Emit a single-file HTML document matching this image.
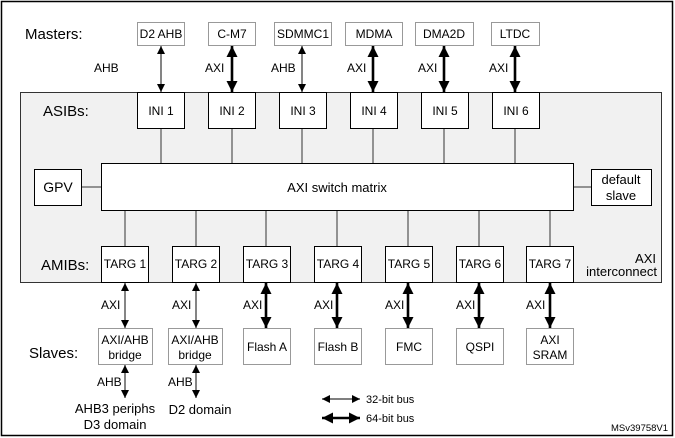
<!DOCTYPE html>
<html><head><meta charset="utf-8"><style>
body{margin:0;background:#fff}
svg{display:block;font-family:"Liberation Sans",Arial,sans-serif}
</style></head><body>
<svg width="675" height="438" viewBox="0 0 675 438" xmlns="http://www.w3.org/2000/svg">
<defs>
<marker id="a" viewBox="0 0 10 10" refX="10" refY="5" markerWidth="8" markerHeight="8" markerUnits="userSpaceOnUse" orient="auto-start-reverse"><path d="M0,0L10,5L0,10z" fill="#000"/></marker>
<marker id="b" viewBox="0 0 10 10" refX="10" refY="5" markerWidth="11" markerHeight="11" markerUnits="userSpaceOnUse" orient="auto-start-reverse"><path d="M0,0L10,5L0,10z" fill="#000"/></marker>
</defs>
<rect x="1.5" y="1.5" width="671" height="434" fill="#fff" stroke="#000" stroke-width="1.5"/>
<rect x="20.5" y="92.5" width="641" height="190" fill="#f1f1f1" stroke="#333"/>
<g font-size="15" fill="#000">
<text x="25" y="39">Masters:</text>
<text x="43" y="116">ASIBs:</text>
<text x="41" y="270">AMIBs:</text>
<text x="29" y="358">Slaves:</text>
</g>
<g stroke="#999" fill="#fff">
<rect x="137.5" y="22.5" width="47" height="23"/>
<rect x="208.5" y="22.5" width="47" height="23"/>
<rect x="274.5" y="22.5" width="57" height="23"/>
<rect x="345.5" y="22.5" width="57" height="23"/>
<rect x="415.5" y="22.5" width="58" height="23"/>
<rect x="491.5" y="22.5" width="48" height="23"/>
<rect x="98.5" y="328.5" width="54" height="36"/>
<rect x="168.5" y="328.5" width="54" height="36"/>
<rect x="243.5" y="328.5" width="47" height="36"/>
<rect x="314.5" y="328.5" width="47" height="36"/>
<rect x="385.5" y="328.5" width="47" height="36"/>
<rect x="456.5" y="328.5" width="47" height="36"/>
<rect x="526.5" y="328.5" width="47" height="36"/>
</g>
<g stroke="#333" fill="none">
<path d="M161 128V163M232 128V163M302 128V163M373 128V163M444 128V163M515 128V163"/>
<path d="M125 210V246M196 210V246M266 210V246M337 210V246M408 210V246M479 210V246M550 210V246"/>
<path d="M81 187H101M573 187H591"/>
</g>
<g stroke="#000" fill="#fff">
<rect x="101.5" y="163.5" width="472" height="47"/>
<rect x="34.5" y="169.5" width="47" height="36"/>
<rect x="591.5" y="169.5" width="60" height="36"/>
<rect x="137.5" y="92.5" width="47" height="36"/>
<rect x="208.5" y="92.5" width="47" height="36"/>
<rect x="279.5" y="92.5" width="47" height="36"/>
<rect x="350.5" y="92.5" width="47" height="36"/>
<rect x="421.5" y="92.5" width="47" height="36"/>
<rect x="492.5" y="92.5" width="47" height="36"/>
<rect x="101.5" y="246.5" width="47" height="36"/>
<rect x="172.5" y="246.5" width="47" height="36"/>
<rect x="243.5" y="246.5" width="47" height="36"/>
<rect x="314.5" y="246.5" width="47" height="36"/>
<rect x="385.5" y="246.5" width="47" height="36"/>
<rect x="456.5" y="246.5" width="47" height="36"/>
<rect x="526.5" y="246.5" width="47" height="36"/>
</g>
<g stroke="#333" stroke-width="1.2" fill="none" marker-start="url(#a)" marker-end="url(#a)">
<line x1="161" y1="46" x2="161" y2="92"/>
<line x1="302" y1="46" x2="302" y2="92"/>
<line x1="125" y1="283" x2="125" y2="328"/>
<line x1="196" y1="283" x2="196" y2="328"/>
<line x1="125" y1="365" x2="125" y2="398"/>
<line x1="196" y1="365" x2="196" y2="398"/>
<line x1="322" y1="399" x2="360" y2="399"/>
</g>
<g stroke="#000" stroke-width="2.6" fill="none" marker-start="url(#b)" marker-end="url(#b)">
<line x1="232" y1="46" x2="232" y2="92"/>
<line x1="373" y1="46" x2="373" y2="92"/>
<line x1="444" y1="46" x2="444" y2="92"/>
<line x1="515" y1="46" x2="515" y2="92"/>
<line x1="266" y1="283" x2="266" y2="328"/>
<line x1="337" y1="283" x2="337" y2="328"/>
<line x1="408" y1="283" x2="408" y2="328"/>
<line x1="479" y1="283" x2="479" y2="328"/>
<line x1="550" y1="283" x2="550" y2="328"/>
<line x1="322" y1="418" x2="360" y2="418"/>
</g>
<g font-size="12" text-anchor="middle" fill="#000">
<text x="161" y="38">D2 AHB</text>
<text x="232" y="38">C-M7</text>
<text x="303" y="38">SDMMC1</text>
<text x="374" y="38">MDMA</text>
<text x="444" y="38">DMA2D</text>
<text x="515" y="38">LTDC</text>
<text x="161" y="115">INI 1</text>
<text x="232" y="115">INI 2</text>
<text x="303" y="115">INI 3</text>
<text x="374" y="115">INI 4</text>
<text x="445" y="115">INI 5</text>
<text x="516" y="115">INI 6</text>
<text x="337" y="192" font-size="13">AXI switch matrix</text>
<text x="58" y="192" font-size="14">GPV</text>
<text x="621" y="184" font-size="13">default</text>
<text x="621" y="200" font-size="13">slave</text>
<text x="125" y="268">TARG 1</text>
<text x="196" y="268">TARG 2</text>
<text x="267" y="268">TARG 3</text>
<text x="338" y="268">TARG 4</text>
<text x="409" y="268">TARG 5</text>
<text x="480" y="268">TARG 6</text>
<text x="550" y="268">TARG 7</text>
<text x="125" y="344">AXI/AHB</text>
<text x="125" y="359">bridge</text>
<text x="195" y="344">AXI/AHB</text>
<text x="195" y="359">bridge</text>
<text x="267" y="351">Flash A</text>
<text x="338" y="351">Flash B</text>
<text x="409" y="351">FMC</text>
<text x="480" y="351">QSPI</text>
<text x="550" y="344">AXI</text>
<text x="550" y="359">SRAM</text>
</g>
<g font-size="12" fill="#000">
<text x="94" y="72">AHB</text>
<text x="205" y="72">AXI</text>
<text x="271" y="72">AHB</text>
<text x="347" y="72">AXI</text>
<text x="418" y="72">AXI</text>
<text x="489" y="72">AXI</text>
<text x="101" y="309">AXI</text>
<text x="172" y="309">AXI</text>
<text x="243" y="309">AXI</text>
<text x="314" y="309">AXI</text>
<text x="385" y="309">AXI</text>
<text x="456" y="309">AXI</text>
<text x="526" y="309">AXI</text>
<text x="97" y="386">AHB</text>
<text x="168" y="386">AHB</text>
<text x="366" y="403" font-size="11">32-bit bus</text>
<text x="366" y="422" font-size="11">64-bit bus</text>
<text x="611" y="431" font-size="9.5">MSv39758V1</text>
</g>
<g font-size="13" fill="#000" text-anchor="middle">
<text x="115" y="413">AHB3 periphs</text>
<text x="115" y="429">D3 domain</text>
<text x="200" y="414">D2 domain</text>
<text x="656" y="263" text-anchor="end">AXI</text>
<text x="657" y="276" text-anchor="end">interconnect</text>
</g>
</svg>
</body></html>
